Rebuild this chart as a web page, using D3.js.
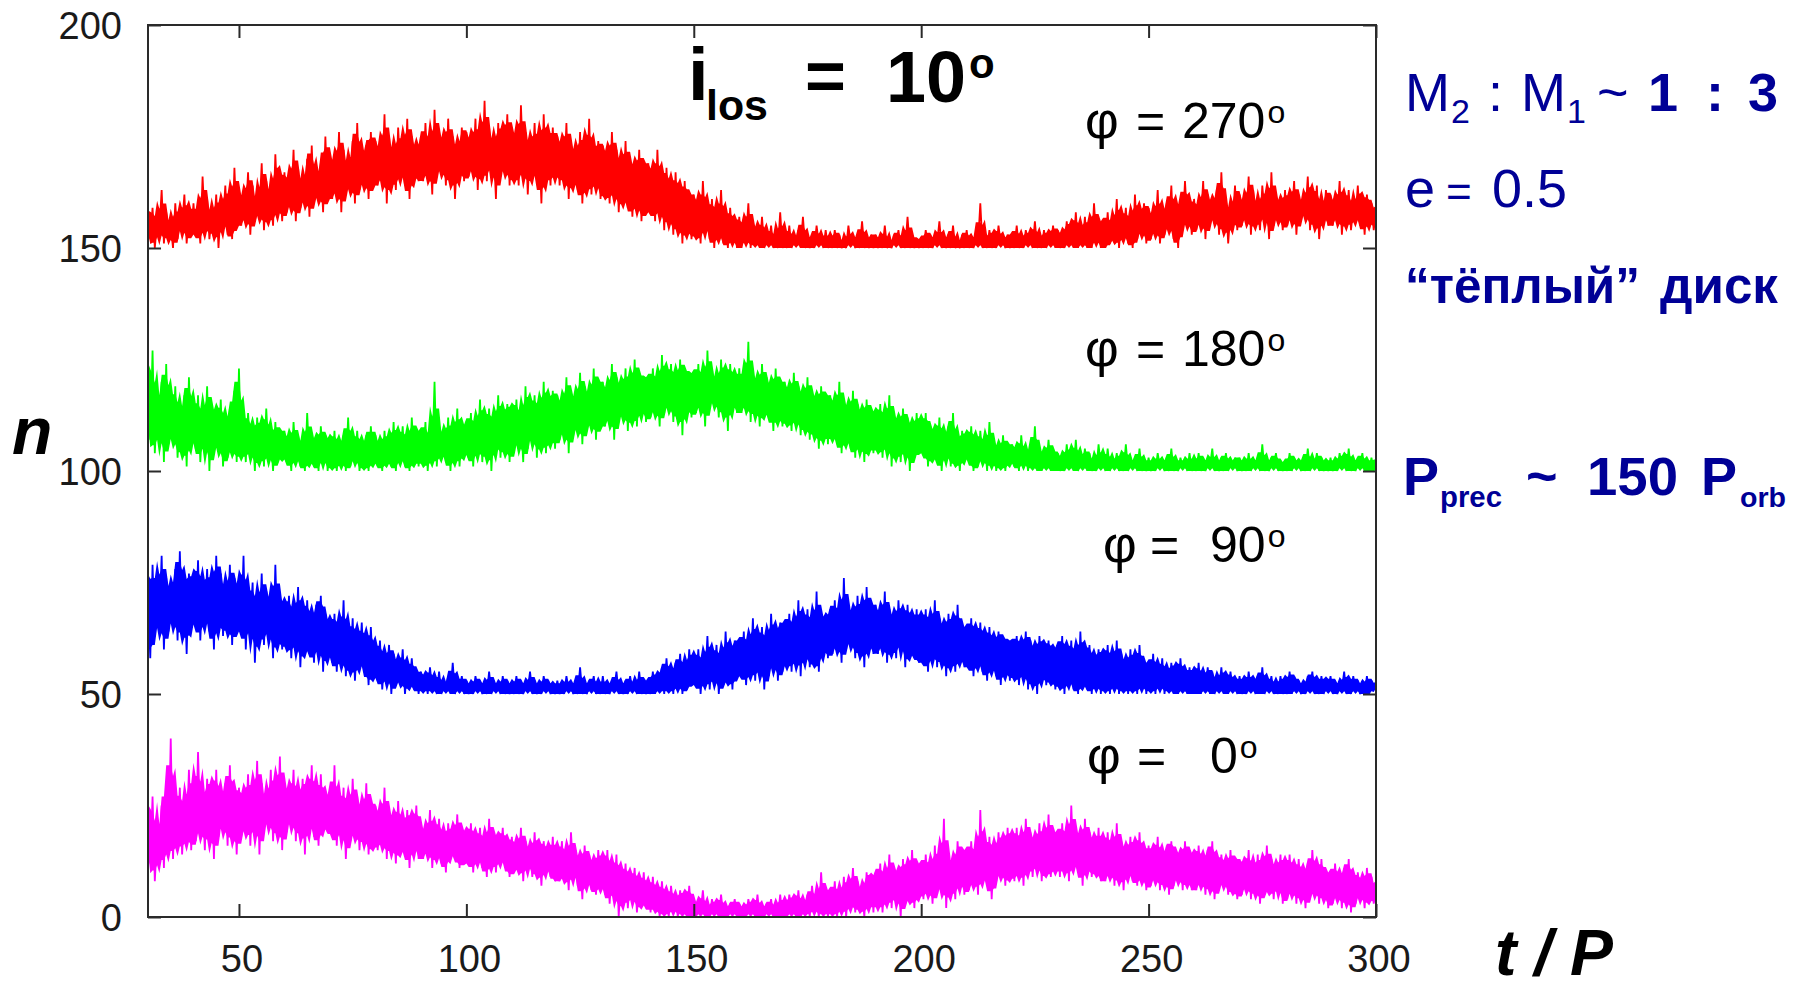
<!DOCTYPE html>
<html><head><meta charset="utf-8">
<script src="https://cdn.jsdelivr.net/npm/d3@7/dist/d3.min.js"></script>
<style>body{margin:0;background:#fff}svg{display:block}</style>
</head><body>
<svg id="c" width="1803" height="988"></svg>
<script>
const tRange = [30, 300];
const xTicks = [50, 100, 150, 200, 250, 300];
const yTicks = [0, 50, 100, 150, 200];
const phiLabels = ["270", "180", "90", "0"];
const seriesColors = ["#ff0000", "#00ff00", "#0000ff", "#ff00ff"];

const nPhi270 = [
157,152,159,150,156,154,163,151,158,153,155,150,160,152,157,155,162,151,158,153,
160,153,158,151,166,155,161,152,157,154,162,150,159,156,164,153,161,152,168,155,
163,155,161,157,167,153,164,156,160,158,169,154,165,157,162,155,171,159,166,156,
167,158,165,160,172,156,168,159,164,161,170,157,173,160,166,162,169,158,175,161,
171,161,169,163,176,158,172,162,168,164,174,160,178,163,171,165,173,161,176,164,
174,164,172,166,180,160,175,165,171,163,177,167,173,164,179,161,175,166,172,165,
175,165,178,167,173,162,181,166,176,168,174,164,179,166,175,161,172,167,177,165,
176,166,174,168,179,163,175,167,183,165,177,169,173,161,178,166,176,168,180,164,
177,166,175,164,182,168,176,162,173,167,178,165,174,160,180,166,175,164,177,167,
175,164,173,166,178,161,174,165,171,163,176,160,173,164,179,162,172,165,174,161,
173,162,171,160,176,163,172,158,169,161,174,159,170,157,168,160,172,156,169,158,
169,158,167,156,172,159,166,154,168,157,164,153,167,155,163,151,165,154,162,152,
162,153,160,151,165,155,159,152,161,150,158,153,163,151,157,150,159,152,156,150,
157,150,155,152,160,150,156,151,154,150,157,150,153,151,155,150,152,150,158,150,
153,150,155,150,152,151,154,150,157,150,152,150,153,150,155,151,152,150,154,150,
152,150,154,150,153,150,151,150,155,151,152,150,153,150,156,150,152,150,153,150,
153,150,152,150,155,150,151,150,153,151,154,150,152,150,157,150,153,150,152,150,
152,150,154,150,153,150,152,151,156,150,152,150,153,150,155,150,151,150,153,150,
154,150,152,150,153,151,160,150,152,150,154,150,153,150,155,151,152,150,153,150,
153,150,155,150,152,150,154,151,153,150,156,150,152,150,154,150,153,151,155,150,
154,150,153,150,156,151,155,150,158,150,154,151,157,150,155,150,160,152,156,150,
156,150,158,151,155,152,161,150,157,153,159,151,156,150,162,152,158,154,160,151,
159,152,157,154,163,151,158,153,160,155,164,152,159,150,161,154,165,156,160,153,
161,154,159,156,165,152,162,155,160,157,163,153,167,155,161,151,158,156,164,154,
162,155,160,157,166,153,163,156,159,154,164,158,161,152,167,155,162,157,160,154,
163,155,161,157,165,153,162,156,160,158,166,154,162,156,164,152,159,157,163,155,
162,155,160,157,165,153,161,156,163,154,159,157,164,155,161,153,162,156,160,154,
158];

const nPhi180 = [
118,107,127,104,115,109,120,102,124,106,116,108,119,103,113,105,117,101,121,107,
114,105,117,102,112,107,119,100,115,104,113,106,116,101,111,103,114,105,118,102,
123,104,111,102,113,105,109,100,112,103,110,101,114,104,108,100,111,102,109,103,
109,102,107,100,111,103,108,101,106,100,113,102,108,101,107,100,110,103,108,100,
107,101,109,100,106,102,108,100,112,101,107,103,109,100,106,101,108,100,110,102,
108,101,106,100,109,102,107,101,111,100,108,103,110,101,107,100,112,102,109,101,
109,102,111,100,107,103,120,101,110,104,108,102,112,100,109,103,114,101,110,104,
111,103,113,101,110,105,116,102,112,104,114,100,111,106,117,103,113,105,115,102,
114,104,116,107,112,102,119,105,115,108,117,103,114,106,120,104,116,107,118,105,
117,107,115,109,121,104,118,108,116,110,122,106,119,109,117,111,123,107,120,110,
120,110,118,112,124,107,121,111,119,113,123,109,120,112,125,110,122,114,121,111,
121,112,123,114,120,110,126,113,122,115,124,111,121,113,125,108,123,114,122,112,
122,113,124,115,121,110,127,114,123,116,120,112,125,114,122,109,124,115,121,113,
123,113,121,115,129,111,122,114,120,110,124,113,121,112,119,109,123,112,120,110,
120,111,118,109,122,112,119,108,117,110,121,107,118,109,116,105,119,108,117,106,
117,108,115,106,120,104,116,107,114,105,118,103,115,106,113,102,116,105,114,104,
113,105,115,103,112,106,117,101,113,104,111,102,114,105,112,100,110,103,113,104,
111,104,113,101,110,103,109,102,112,100,108,104,110,101,113,102,107,100,109,103,
108,102,110,100,107,101,109,103,106,100,111,102,107,100,105,101,108,100,106,102,
106,101,105,100,108,102,104,100,106,101,110,100,105,100,104,101,107,100,105,100,
104,100,103,100,106,101,104,100,107,100,103,101,105,100,104,100,102,100,106,101,
103,100,105,100,102,101,104,100,103,100,106,100,102,101,103,100,105,100,102,100,
103,100,102,100,104,101,102,100,103,100,105,100,102,100,103,101,102,100,104,100,
102,100,104,100,103,100,102,101,105,100,102,100,103,100,104,100,102,101,103,100,
103,100,102,100,104,100,102,101,103,100,106,100,102,100,103,101,104,100,102,100,
102,100,104,100,103,101,102,100,103,100,105,100,102,101,104,100,103,100,102,100,
103,100,102,100,104,101,103,100,105,100,102,100,103,101,104,100,102,100,103,100,
102];

const nPhi90 = [
72,58,79,63,74,66,81,60,76,64,73,67,78,62,82,65,75,59,77,66,
76,65,80,62,74,67,78,64,75,60,81,66,77,63,73,65,79,61,76,64,
74,64,81,60,72,66,75,57,70,63,77,61,73,65,71,58,79,62,72,60,
70,61,72,58,68,62,74,56,69,60,71,59,67,57,70,61,72,55,68,59,
66,57,68,55,65,58,71,54,64,56,67,53,63,57,66,55,62,52,65,54,
60,53,62,51,58,54,61,50,59,52,57,53,60,50,56,52,58,51,55,50,
55,51,54,50,56,51,53,50,55,50,52,51,54,50,57,50,53,51,54,50,
53,50,52,50,54,51,53,50,52,50,55,50,53,51,52,50,54,50,53,50,
52,50,54,50,53,50,52,51,55,50,53,50,52,50,54,51,53,50,52,50,
53,50,52,50,54,51,52,50,53,50,56,50,52,50,53,51,54,50,52,50,
54,50,52,50,53,51,55,50,52,50,53,50,54,51,52,50,55,50,53,50,
53,50,55,50,54,51,56,50,58,51,55,50,57,52,59,50,56,51,60,52,
58,52,60,50,57,53,63,51,59,54,61,50,58,52,64,53,60,51,62,54,
62,54,64,52,61,55,67,53,63,56,65,51,62,54,68,57,64,53,66,55,
66,57,68,55,65,58,71,54,67,59,69,56,66,57,73,55,68,60,67,58,
69,59,71,61,68,57,76,60,70,62,68,58,72,60,69,56,74,61,70,59,
70,59,68,61,73,57,69,60,67,58,71,62,68,56,70,59,67,58,69,57,
67,57,69,55,66,59,71,56,67,58,65,54,68,57,66,55,70,58,65,56,
65,56,67,54,64,57,66,55,63,53,65,56,62,54,64,52,63,55,62,53,
62,54,63,52,61,55,64,51,62,53,60,50,63,54,61,52,62,53,60,51,
61,52,63,50,60,53,62,51,59,50,64,52,60,51,61,50,58,52,60,50,
59,51,61,50,58,52,62,50,59,51,57,50,60,51,58,50,61,52,57,50,
57,51,59,50,56,52,58,50,55,51,57,50,56,50,58,51,55,50,56,50,
55,50,57,50,54,51,56,50,55,50,53,51,56,50,54,50,55,51,53,50,
54,50,53,50,55,51,53,50,54,50,56,50,53,51,54,50,52,50,54,50,
53,50,55,50,54,51,53,50,52,50,54,51,55,50,53,50,54,50,53,51,
54,50,53,50,52,51,55,50,53,50,54,51,53,50,52,50,54,50,53,51,
52];

const nPhi0 = [
21,12,27,8,18,14,25,11,30,16,40,13,26,17,29,14,24,18,33,15,
28,17,37,20,26,15,31,19,29,13,33,18,27,21,30,16,34,19,28,14,
29,18,27,20,32,16,28,21,35,14,30,19,26,22,33,17,29,20,36,15,
30,19,28,22,33,17,27,20,31,14,29,21,34,18,28,16,32,20,27,19,
28,18,34,16,26,20,29,13,25,17,31,19,27,15,24,18,30,14,26,16,
25,15,23,17,29,13,24,16,22,12,26,15,21,14,24,11,22,16,25,13,
21,13,19,15,24,11,20,14,22,12,18,10,21,14,19,13,23,11,20,12,
19,12,21,10,18,13,20,11,17,9,22,12,19,10,18,13,20,11,17,9,
18,10,16,11,20,8,17,12,15,9,19,10,16,7,17,11,15,9,18,8,
15,8,17,9,14,6,19,10,15,7,13,4,16,8,14,6,12,5,15,7,
13,5,15,3,11,6,14,0,10,4,12,2,9,5,11,1,8,3,10,2,
7,1,9,2,6,0,8,1,5,0,7,2,4,0,6,1,5,0,7,0,
4,0,3,1,6,0,2,0,4,1,3,0,5,0,2,0,3,1,4,0,
3,0,2,0,4,1,3,0,5,0,2,0,3,1,4,0,2,0,5,0,
3,0,5,1,4,0,6,0,3,1,5,0,7,2,4,0,10,1,6,0,
6,1,8,0,5,2,9,0,7,3,11,1,8,2,6,0,10,3,9,1,
10,3,12,1,9,4,14,2,11,5,10,0,13,3,11,4,15,2,12,5,
12,4,14,6,11,3,16,5,13,7,22,2,14,6,12,4,17,8,15,5,
15,6,17,8,14,5,24,9,16,7,18,4,15,8,19,10,17,7,20,9,
18,8,20,10,17,7,22,11,19,9,17,12,21,8,18,10,23,9,19,11,
19,9,21,11,18,8,25,12,20,10,18,7,22,11,19,9,17,10,20,8,
17,8,19,10,16,7,21,9,17,6,15,10,18,8,16,7,19,9,15,6,
16,7,15,9,18,6,14,8,16,5,17,7,15,9,14,6,17,8,15,6,
14,6,16,8,13,5,15,7,17,4,13,6,14,8,12,5,15,6,13,4,
13,5,12,7,15,4,11,6,14,3,12,5,16,6,13,4,11,7,14,3,
12,4,14,6,11,3,13,5,10,2,12,4,15,6,11,3,13,5,10,2,
10,3,12,5,9,2,11,4,13,1,9,3,10,5,8,2,11,4,9,3,
6];

const series = [nPhi270, nPhi180, nPhi90, nPhi0];

// ---------- layout ----------
const svg = d3.select("#c");
const P = {l:148, r:1376, t:25, b:917};
const x = d3.scaleLinear().domain(tRange).range([P.l, P.r]);
const y = d3.scaleLinear().domain([0, 200]).range([P.b, P.t]);

svg.append("rect").attr("width",1803).attr("height",988).attr("fill","#fff");

svg.append("defs").append("clipPath").attr("id","pc")
  .append("rect").attr("x",P.l).attr("y",P.t).attr("width",P.r-P.l).attr("height",P.b-P.t);

const plot = svg.append("g").attr("clip-path","url(#pc)");
series.forEach((vals, k) => {
  const step = (tRange[1]-tRange[0])/(vals.length-1);
  const tx = i => x(tRange[0]+i*step);
  // dense core of the noisy trace: local quantiles of neighbouring samples
  const win = i => vals.slice(Math.max(0,i-2), i+3).slice().sort(d3.ascending);
  const hiQ = vals.map((d,i)=>d3.quantileSorted(win(i), 0.85));
  const loQ = vals.map((d,i)=>d3.quantileSorted(win(i), 0.15));
  const area = d3.area().x((d,i)=>tx(i)).y0((d,i)=>y(loQ[i])).y1((d,i)=>y(hiQ[i]));
  plot.append("path").datum(vals).attr("d", area).attr("fill", seriesColors[k]);
  const line = d3.line().x((d,i)=>tx(i)).y(d=>y(d));
  plot.append("path").datum(vals).attr("d", line)
    .attr("fill","none").attr("stroke", seriesColors[k])
    .attr("stroke-width",1.8).attr("stroke-linejoin","bevel");
});

// axes (inward ticks on all four sides)
const axCol = "#2a2a2a";
const tl = 13;
const gB = svg.append("g").attr("transform",`translate(0,${P.b})`)
  .call(d3.axisTop(x).tickValues(xTicks).tickSize(tl).tickFormat(""));
const gT = svg.append("g").attr("transform",`translate(0,${P.t})`)
  .call(d3.axisBottom(x).tickValues(xTicks).tickSize(tl).tickFormat(""));
const gL = svg.append("g").attr("transform",`translate(${P.l},0)`)
  .call(d3.axisRight(y).tickValues(yTicks).tickSize(tl).tickFormat(""));
const gR = svg.append("g").attr("transform",`translate(${P.r},0)`)
  .call(d3.axisLeft(y).tickValues(yTicks).tickSize(tl).tickFormat(""));
[gB,gT,gL,gR].forEach(g=>{
  g.selectAll(".domain").remove();
  g.selectAll("line").attr("stroke",axCol).attr("stroke-width",2);
});
svg.append("rect").attr("x",P.l).attr("y",P.t).attr("width",P.r-P.l).attr("height",P.b-P.t)
  .attr("fill","none").attr("stroke",axCol).attr("stroke-width",2);

// tick labels
const sans = "'Liberation Sans', Arial, sans-serif";
svg.append("g").selectAll("text").data(yTicks).join("text")
  .attr("x",122).attr("y",d=>y(d)).attr("dy","0.36em")
  .attr("text-anchor","end").attr("font-family",sans).attr("font-size",38)
  .attr("fill","#1a1a1a").text(d=>d);
svg.append("g").selectAll("text").data(xTicks).join("text")
  .attr("x",d=>x(d)+3).attr("y",972)
  .attr("text-anchor","middle").attr("font-family",sans).attr("font-size",38)
  .attr("fill","#1a1a1a").text(d=>d);

// helper: text piece, optionally sized so its natural width equals w
function piece(s, px, py, o) {
  const t = svg.append("text").attr("x",px).attr("y",py)
    .attr("font-family", o.font || sans)
    .attr("font-size", o.size).attr("font-weight", o.weight || "normal")
    .attr("font-style", o.style || "normal")
    .attr("fill", o.fill || "#000").text(s);
  if (o.w) {
    const len = t.node().getComputedTextLength();
    if (len > 0) t.attr("font-size", o.size * o.w / len);
  }
  return t;
}
const endX = t => +t.attr("x") + t.node().getComputedTextLength();

// axis titles
piece("n", 12, 454, {size:66, weight:"bold", style:"italic"});
piece("t / P", 1495, 975, {size:60, weight:"bold", style:"italic", w:118});

// phase labels
const phiPos = [
  {phi:1085, eq:1136, num:1182, base:138},
  {phi:1085, eq:1136, num:1182, base:366},
  {phi:1103, eq:1150, num:1210, base:562},
  {phi:1087, eq:1137, num:1210, base:773}
];
phiLabels.forEach((lab,k)=>{
  const p = phiPos[k];
  piece("φ", p.phi, p.base, {size:52});
  piece("=", p.eq, p.base, {size:50});
  const nt = piece(lab, p.num, p.base, {size:50});
  piece("o", endX(nt)+2, p.base-15, {size:32});
});

// title  i_los = 10°
piece("i", 688, 100, {size:74, weight:"bold"});
piece("los", 706, 120, {size:52, weight:"bold", w:62});
piece("=", 805, 100, {size:70, weight:"bold"});
const ten = piece("10", 886, 102, {size:76, weight:"bold", w:80});
piece("o", endX(ten)+3, 78, {size:42, weight:"bold"});

// right-side notes
const nv = "#000096";
const nn = {size:54, fill:nv};
const nb = {size:54, fill:nv, weight:"bold"};
const sub = {size:34, fill:nv};
const subB = {size:38, fill:nv, weight:"bold"};
piece("M", 1405, 111, nn);
piece("2", 1451, 123, sub);
piece(":", 1488, 111, nn);
piece("M", 1521, 111, nn);
piece("1", 1567, 123, sub);
piece("~", 1597, 111, nn);
piece("1", 1648, 111, nb);
piece(":", 1706, 111, nb);
piece("3", 1748, 111, nb);

piece("e", 1405, 207, nn);
piece("=", 1446, 207, Object.assign({}, nn, {size:44}));
piece("0.5", 1492, 207, Object.assign({w:75}, nn));

piece("“тёплый”", 1405, 303, Object.assign({w:235}, nb));
piece("диск", 1660, 303, Object.assign({w:118}, nb));

piece("P", 1403, 495, nb);
piece("prec", 1440, 507, Object.assign({w:62}, subB));
piece("~", 1526, 495, nb);
piece("150", 1587, 495, Object.assign({w:91}, nb));
piece("P", 1701, 495, nb);
piece("orb", 1740, 507, Object.assign({w:46}, subB));
</script>
</body></html>
